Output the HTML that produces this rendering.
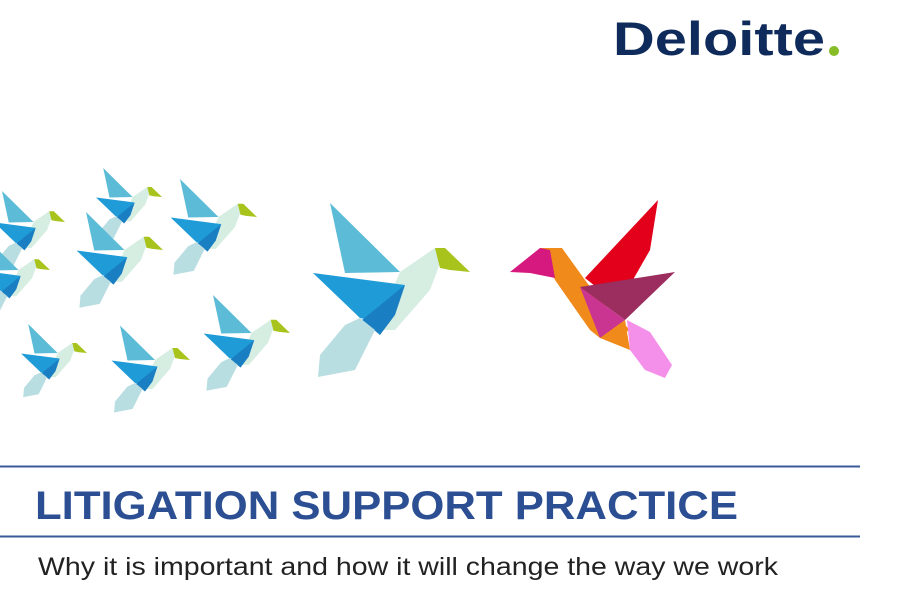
<!DOCTYPE html>
<html><head><meta charset="utf-8"><style>
html,body{margin:0;padding:0;background:#fff;width:900px;height:600px;overflow:hidden}
</style></head><body>
<svg width="900" height="600" viewBox="0 0 900 600">
<defs>
<g id="bb">
<polygon points="30,13 100,82 45,83" fill="#5cbcd8"/>
<polygon points="100,82 135,58 145,60 130,100 95,140 75,140" fill="#d6ede2"/>
<polygon points="135,58 145,58 170,82 150,80 140,78" fill="#a8c41c"/>
<polygon points="13,83 105,95 70,130 60,128" fill="#1f9bd8"/>
<polygon points="105,95 95,125 80,145 62,130" fill="#1a7fc2"/>
<polygon points="60,128 75,140 55,180 18,187 20,165 45,135" fill="#b9dee2"/>
</g>
</defs>
<text x="613" y="55" font-family="Liberation Sans, sans-serif" font-weight="bold" font-size="47" fill="#0f2b5b" textLength="212" lengthAdjust="spacingAndGlyphs">Deloitte</text>
<circle cx="834" cy="51" r="5" fill="#86bc25"/>
<g>
<use href="#bb" transform="translate(-11.5,185.1) scale(0.45)"/>
<use href="#bb" transform="translate(90.6,162.6) scale(0.42)"/>
<use href="#bb" transform="translate(163.5,171.9) scale(0.55)"/>
<use href="#bb" transform="translate(69.5,204.9) scale(0.55)"/>
<use href="#bb" transform="translate(-26.5,233.1) scale(0.45)"/>
<use href="#bb" transform="translate(15.6,318.6) scale(0.42)"/>
<use href="#bb" transform="translate(105,319) scale(0.5)"/>
<use href="#bb" transform="translate(196.5,287.9) scale(0.55)"/>
</g>
<use href="#bb" transform="translate(300,190)"/>
<g transform="translate(300,190)">
<polygon points="285,88 358,10 350,60 330,95 300,100" fill="#e2001a"/>
<polygon points="240,58 262,58 285,90 300,110 330,140 320,145 300,148 290,140 255,90" fill="#f08a1a"/>
<polygon points="210,82 240,58 250,60 255,88 230,83" fill="#d6197f"/>
<polygon points="280,97 375,82 325,130" fill="#9b2d5f"/>
<polygon points="280,97 325,130 300,148" fill="#c93591"/>
<polygon points="300,148 325,130 330,160 305,150" fill="#f08a1a"/>
<polygon points="327,130 350,142 372,175 365,188 345,180 330,160" fill="#f590ea"/>
</g>
<line x1="0" y1="466.5" x2="860" y2="466.5" stroke="#3a5a9a" stroke-width="2"/>
<text x="35" y="519" font-family="Liberation Sans, sans-serif" font-weight="bold" font-size="40" fill="#2c4f93" textLength="703" lengthAdjust="spacingAndGlyphs">LITIGATION SUPPORT PRACTICE</text>
<line x1="0" y1="536.5" x2="860" y2="536.5" stroke="#3a5a9a" stroke-width="2"/>
<text x="38" y="575" font-family="Liberation Sans, sans-serif" font-size="25" fill="#222" textLength="740" lengthAdjust="spacingAndGlyphs">Why it is important and how it will change the way we work</text>
</svg>
</body></html>
